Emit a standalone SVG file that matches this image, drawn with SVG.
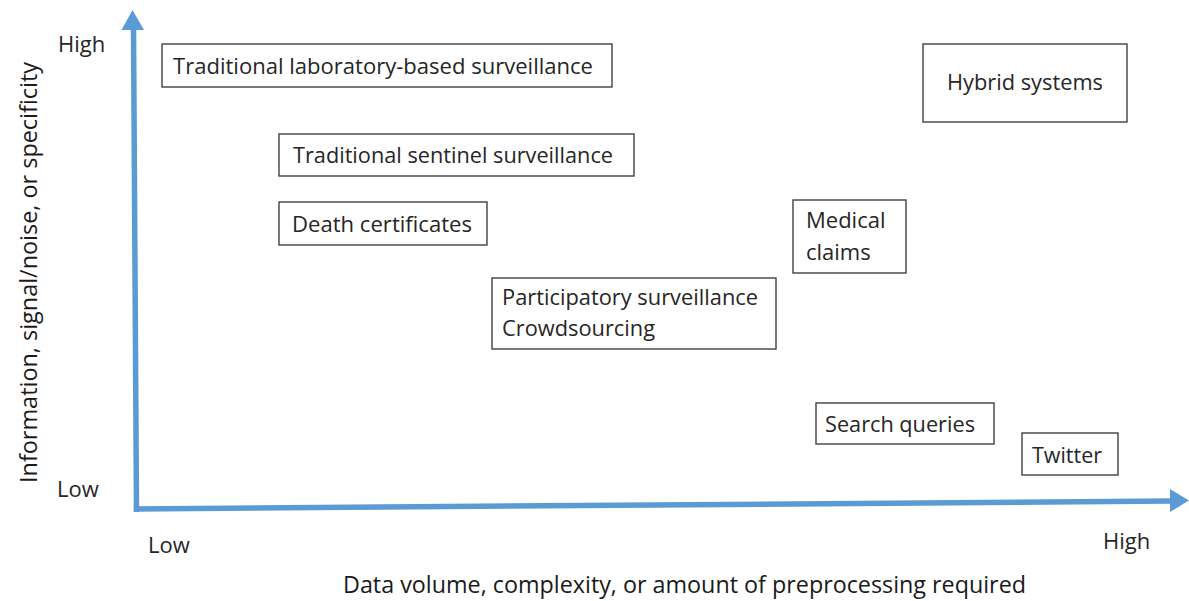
<svg xmlns="http://www.w3.org/2000/svg" width="1189" height="601" viewBox="0 0 1189 601">
<style>
  text { font-family: "Open Sans", "Liberation Sans", sans-serif; font-size: 22px; fill: #262626; }
  .title { font-size: 23px; fill: #1a1a1a; }
  .box { fill: #ffffff; stroke: #404040; stroke-width: 1.4; }
  .axis { stroke: #5B9BD5; stroke-width: 5.5; fill: none; stroke-linecap: butt; }
  .head { fill: #5B9BD5; }
</style>
<rect width="1189" height="601" fill="#ffffff"/>
<g id="axes">
  <line class="axis" x1="136.5" y1="512" x2="133.5" y2="27"/>
  <polygon class="head" points="132.5,10 121.5,30 144,30"/>
  <line class="axis" x1="133.8" y1="509" x2="1172" y2="501"/>
  <polygon class="head" points="1189,500.5 1170,489 1170,512"/>
</g>
<g id="axis-labels">
  <text x="58" y="52">High</text>
  <text x="57" y="497">Low</text>
  <text x="148" y="553">Low</text>
  <text x="1103" y="549">High</text>
  <text class="title" x="343" y="593" textLength="683" lengthAdjust="spacingAndGlyphs">Data volume, complexity, or amount of preprocessing required</text>
  <text class="title" transform="translate(37,483) rotate(-90)" x="0" y="0" textLength="421" lengthAdjust="spacingAndGlyphs">Information, signal/noise, or specificity</text>
</g>
<g id="node-lab">
  <rect class="box" x="162" y="44" width="450" height="43"/>
  <text x="173" y="74" textLength="420" lengthAdjust="spacingAndGlyphs">Traditional laboratory-based  surveillance</text>
</g>
<g id="node-sentinel">
  <rect class="box" x="279" y="134" width="355" height="42"/>
  <text x="293" y="163" textLength="320" lengthAdjust="spacingAndGlyphs">Traditional sentinel surveillance</text>
</g>
<g id="node-death">
  <rect class="box" x="279" y="202" width="208" height="43"/>
  <text x="292" y="232" textLength="180" lengthAdjust="spacingAndGlyphs">Death certificates</text>
</g>
<g id="node-medical">
  <rect class="box" x="793" y="200" width="113" height="73"/>
  <text x="806" y="228">Medical</text>
  <text x="806" y="260">claims</text>
</g>
<g id="node-participatory">
  <rect class="box" x="492" y="278" width="284" height="71"/>
  <text x="502" y="305" textLength="256" lengthAdjust="spacingAndGlyphs">Participatory surveillance</text>
  <text x="502" y="336" textLength="153" lengthAdjust="spacingAndGlyphs">Crowdsourcing</text>
</g>
<g id="node-search">
  <rect class="box" x="816" y="403" width="178" height="41"/>
  <text x="825" y="432" textLength="150" lengthAdjust="spacingAndGlyphs">Search queries</text>
</g>
<g id="node-twitter">
  <rect class="box" x="1022" y="433" width="96" height="42"/>
  <text x="1032" y="463" textLength="70" lengthAdjust="spacingAndGlyphs">Twitter</text>
</g>
<g id="node-hybrid">
  <rect class="box" x="923" y="44" width="204" height="78"/>
  <text x="947" y="90" textLength="156" lengthAdjust="spacingAndGlyphs">Hybrid systems</text>
</g>
</svg>
